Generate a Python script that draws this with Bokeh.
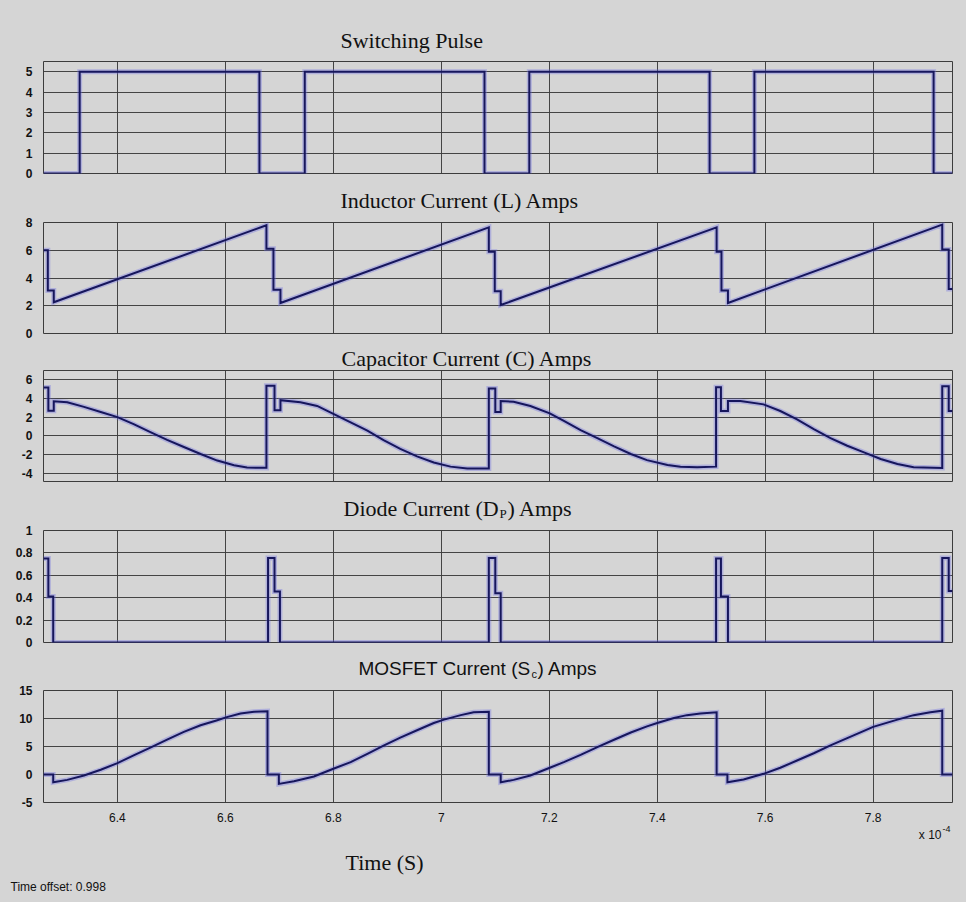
from bokeh.plotting import figure
from bokeh.layouts import column
from bokeh.models import Range1d, FixedTicker, Title
from bokeh.core.properties import value
from bokeh.embed import file_html
from bokeh.resources import INLINE

# ---------------- data (time axis in units of 1e-4 s) ----------------
x_ticks = [6.4, 6.6, 6.8, 7.0, 7.2, 7.4, 7.6, 7.8]
x_tick_labels = ["6.4", "6.6", "6.8", "7", "7.2", "7.4", "7.6", "7.8"]
x_start, x_end = 6.263, 7.947

sw_t = [6.263, 6.330, 6.330, 6.663, 6.663, 6.747, 6.747, 7.080, 7.080, 7.163, 7.163,
        7.497, 7.497, 7.580, 7.580, 7.912, 7.912, 7.947]
sw_v = [0, 0, 5, 5, 0, 0, 5, 5, 0, 0, 5, 5, 0, 0, 5, 5, 0, 0]
sw_ticks = [0, 1, 2, 3, 4, 5]
sw_tick_labels = ["0", "1", "2", "3", "4", "5"]

ind_t = [6.263, 6.271, 6.271, 6.282, 6.282, 6.676, 6.676, 6.689, 6.689, 6.702, 6.702,
         7.088, 7.088, 7.099, 7.099, 7.110, 7.110, 7.510, 7.510, 7.519, 7.519, 7.531,
         7.531, 7.928, 7.928, 7.940, 7.940, 7.947]
ind_v = [6.0, 6.0, 3.1, 3.1, 2.25, 7.8, 6.1, 6.1, 3.15, 3.15, 2.2, 7.65, 5.9, 5.9, 3.05,
         3.05, 2.05, 7.65, 5.9, 5.9, 3.1, 3.1, 2.2, 7.85, 6.05, 6.05, 3.2, 3.2]
ind_ticks = [0, 2, 4, 6, 8]
ind_tick_labels = ["0", "2", "4", "6", "8"]

cap_t = [6.263, 6.272, 6.272, 6.282, 6.282, 6.307, 6.338, 6.369, 6.400, 6.430, 6.461,
         6.492, 6.523, 6.554, 6.585, 6.616, 6.640, 6.676,
         6.676, 6.691, 6.691, 6.702, 6.702, 6.739, 6.770, 6.800, 6.832, 6.863, 6.893,
         6.924, 6.955, 6.986, 7.017, 7.048, 7.088,
         7.088, 7.100, 7.100, 7.110, 7.110, 7.134, 7.165, 7.201, 7.227, 7.258, 7.289,
         7.320, 7.351, 7.381, 7.419, 7.443, 7.474, 7.509,
         7.509, 7.518, 7.518, 7.531, 7.531, 7.554, 7.597, 7.628, 7.659, 7.690, 7.721,
         7.752, 7.783, 7.814, 7.845, 7.875, 7.928,
         7.928, 7.940, 7.940, 7.947]
cap_v = [5.18, 5.18, 2.68, 2.68, 3.7, 3.6, 3.1, 2.55, 2.0, 1.25, 0.4, -0.43, -1.2, -1.95,
         -2.65, -3.15, -3.4, -3.43,
         5.36, 5.36, 2.75, 2.75, 3.82, 3.6, 3.2, 2.35, 1.45, 0.55, -0.45, -1.4, -2.2,
         -2.85, -3.3, -3.5, -3.5,
         5.07, 5.07, 2.55, 2.55, 3.72, 3.65, 3.19, 2.41, 1.6, 0.6, -0.25, -1.13, -1.95,
         -2.6, -3.12, -3.3, -3.37, -3.3,
         5.21, 5.21, 2.66, 2.66, 3.72, 3.72, 3.37, 2.66, 1.77, 0.71, -0.25, -1.06, -1.77,
         -2.48, -3.01, -3.37, -3.44,
         5.32, 5.32, 2.66, 2.66]
cap_ticks = [-4, -2, 0, 2, 4, 6]
cap_tick_labels = ["-4", "-2", "0", "2", "4", "6"]

dio_t = [6.263, 6.272, 6.272, 6.281, 6.281, 6.679, 6.679, 6.691, 6.691, 6.701, 6.701,
         7.088, 7.088, 7.100, 7.100, 7.110, 7.110, 7.509, 7.509, 7.518, 7.518, 7.531,
         7.531, 7.928, 7.928, 7.940, 7.940, 7.947]
dio_v = [0.75, 0.75, 0.41, 0.41, 0, 0, 0.755, 0.755, 0.455, 0.455, 0, 0, 0.755, 0.755,
         0.44, 0.44, 0, 0, 0.75, 0.75, 0.41, 0.41, 0, 0, 0.755, 0.755, 0.46, 0.46]
dio_ticks = [0, 0.2, 0.4, 0.6, 0.8, 1]
dio_tick_labels = ["0", "0.2", "0.4", "0.6", "0.8", "1"]

mos_t = [6.263, 6.281, 6.281, 6.307, 6.338, 6.369, 6.400, 6.430, 6.461, 6.492, 6.523,
         6.554, 6.585, 6.601, 6.628, 6.653, 6.678,
         6.678, 6.699, 6.699, 6.727, 6.764, 6.800, 6.832, 6.863, 6.893, 6.924, 6.955,
         6.986, 7.005, 7.036, 7.060, 7.088,
         7.088, 7.110, 7.110, 7.134, 7.165, 7.201, 7.227, 7.258, 7.289, 7.320, 7.351,
         7.381, 7.400, 7.431, 7.455, 7.480, 7.510,
         7.510, 7.530, 7.530, 7.560, 7.597, 7.628, 7.659, 7.690, 7.721, 7.752, 7.783,
         7.800, 7.845, 7.875, 7.906, 7.928,
         7.928, 7.947]
mos_v = [0, 0, -1.38, -0.96, -0.18, 0.84, 2.04, 3.41, 4.79, 6.23, 7.6, 8.8, 9.7, 10.2,
         10.9, 11.2, 11.3,
         0, 0, -1.68, -1.2, -0.36, 1.02, 2.2, 3.7, 5.15, 6.59, 7.9, 9.2, 9.8, 10.6, 11.1,
         11.2,
         0, 0, -1.38, -0.96, -0.18, 1.2, 2.2, 3.5, 4.9, 6.2, 7.5, 8.6, 9.2, 10.1, 10.6,
         10.9, 11.1,
         0, 0, -1.38, -0.9, 0.12, 1.2, 2.5, 3.8, 5.2, 6.5, 7.8, 8.5, 9.8, 10.6, 11.1, 11.4,
         0, 0]
mos_ticks = [-5, 0, 5, 10, 15]
mos_tick_labels = ["-5", "0", "5", "10", "15"]

# ---------------- styling ----------------
W = 966
FL, FR = 43, 952          # frame left / right in page pixels
BG = "#d5d5d5"
GRID = "#3c3c3c"
LINE = "#16165c"
HALO = "#6a6ae6"
SERIF = "Liberation Serif"
SANS = "Liberation Sans"


def base_fig(h, frame_h, b_top, b_bottom, xr, yr, axes):
    p = figure(width=W, height=h, frame_width=FR - FL, frame_height=frame_h,
               min_border_left=FL, min_border_right=W - FR,
               min_border_top=b_top, min_border_bottom=b_bottom,
               x_range=xr, y_range=yr,
               x_axis_location="below" if axes else None,
               y_axis_location="left" if axes else None,
               toolbar_location=None, output_backend="svg", title=None)
    p.background_fill_color = BG
    p.border_fill_color = BG
    return p


def make_panel(t, v, yr, yticks, ylabels, b_top, frame_h, b_bottom, show_x):
    p = base_fig(b_top + frame_h + b_bottom, frame_h, b_top, b_bottom,
                 Range1d(x_start, x_end), Range1d(*yr), True)
    p.outline_line_color = GRID
    p.outline_line_width = 1
    for ax in (p.xaxis[0], p.yaxis[0]):
        ax.axis_line_color = None
        ax.major_tick_line_color = None
        ax.minor_tick_line_color = None
        ax.major_label_text_font = SANS
        ax.major_label_text_color = "#111111"
    p.xaxis.ticker = FixedTicker(ticks=x_ticks)
    p.xaxis.major_label_overrides = {tk: lb for tk, lb in zip(x_ticks, x_tick_labels)}
    p.xaxis.major_label_text_font_size = "12px"
    p.xaxis.major_label_standoff = 4
    p.xaxis.visible = show_x
    p.yaxis.ticker = FixedTicker(ticks=yticks)
    p.yaxis.major_label_overrides = {tk: lb for tk, lb in zip(yticks, ylabels)}
    p.yaxis.major_label_text_font_size = "12px"
    p.yaxis.major_label_text_font_style = "bold"
    p.yaxis.major_label_standoff = 5
    p.xgrid.ticker = FixedTicker(ticks=x_ticks)
    p.ygrid.ticker = FixedTicker(ticks=yticks)
    for g in (p.xgrid[0], p.ygrid[0]):
        g.grid_line_color = GRID
        g.grid_line_width = 1
        g.grid_line_alpha = 0.95
    p.line(t, v, line_color=HALO, line_alpha=0.35, line_width=5, line_join="miter")
    p.line(t, v, line_color=LINE, line_width=2, line_join="miter")
    return p


def make_strip(h, items, b_bottom=0):
    """Text-only strip; items are (page_x, y_from_strip_top, text, size, font, align)."""
    fh = h - b_bottom
    p = base_fig(h, fh, 0, b_bottom, Range1d(FL, FR), Range1d(0, fh), False)
    p.grid.visible = False
    p.outline_line_color = None
    for (x, y_top, txt, size, font, align) in items:
        p.text(x=[x], y=[fh - y_top], text=[txt], text_font=value(font),
               text_font_size=value(size), text_align=align,
               text_baseline="middle", text_color="#111111")
    return p


sA = make_strip(61, [(340, 40, "Switching Pulse", "22px", SERIF, "left")])
p1 = make_panel(sw_t, sw_v, (0, 5.5), sw_ticks, sw_tick_labels, 0, 112, 7, False)
sB = make_strip(35, [(340, 20, "Inductor Current (L) Amps", "22px", SERIF, "left")])
p2 = make_panel(ind_t, ind_v, (0, 8), ind_ticks, ind_tick_labels, 7, 111, 7, False)
sC = make_strip(30, [(341, 18, "Capacitor Current (C) Amps", "22px", SERIF, "left")])
p3 = make_panel(cap_t, cap_v, (-5, 7), cap_ticks, cap_tick_labels, 0, 112, 0, False)
sD = make_strip(41, [(343, 26, "Diode Current (D", "22px", SERIF, "left"),
                     (499, 31, "P", "13px", SERIF, "left"),
                     (507, 26, ") Amps", "22px", SERIF, "left")])
p4 = make_panel(dio_t, dio_v, (0, 1), dio_ticks, dio_tick_labels, 7, 112, 7, False)
sE = make_strip(34, [(530, 19, "MOSFET Current (S", "19px", SANS, "right"),
                     (531, 24, "c", "11px", SANS, "left"),
                     (537, 19, ") Amps", "19px", SANS, "left")])
p5 = make_panel(mos_t, mos_v, (-5, 15), mos_ticks, mos_tick_labels, 7, 112, 20, True)
sF = make_strip(78, [(941, 10, "x 10", "12px", SANS, "right"),
                     (942, 4, "-4", "9px", SANS, "left"),
                     (345, 38, "Time (S)", "22px", SERIF, "left")], b_bottom=26)
sF.add_layout(Title(text="Time offset: 0.998", align="left", offset=10 - FL,
                    text_font=SANS, text_font_size="12px", text_font_style="normal",
                    text_color="#111111", standoff=2), "below")

layout = column(sA, p1, sB, p2, sC, p3, sD, p4, sE, p5, sF, spacing=0,
                styles={"background-color": BG})
open("out.html", "w").write(file_html(layout, INLINE))
